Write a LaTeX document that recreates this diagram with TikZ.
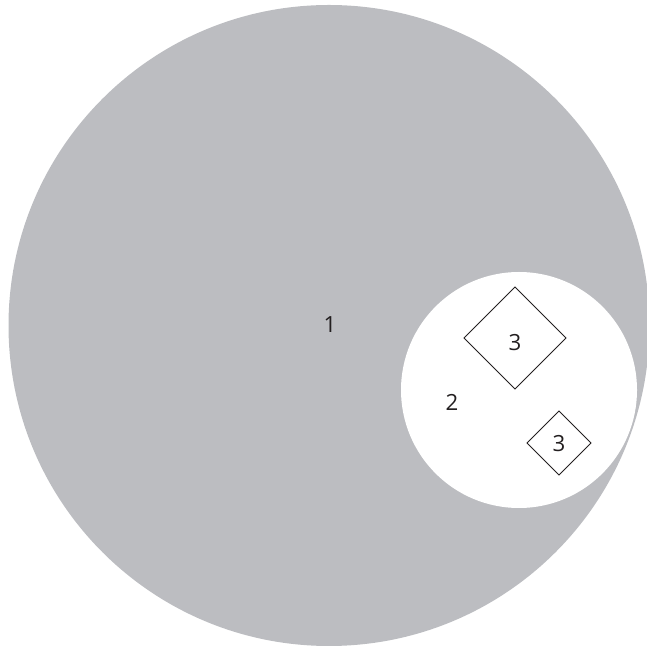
\documentclass[tikz,border=0pt]{standalone}
\usepackage{fontspec}
\setmainfont{Open Sans}
\usepackage{xcolor}
\usepackage{tikz}
\usetikzlibrary{shapes.geometric}
\definecolor{regiongray}{HTML}{BCBDC1}
\definecolor{darkline}{HTML}{231F20}
\tikzset{
  regionlabel/.style={inner sep=0pt, text=darkline, font=\fontsize{19}{23}\selectfont},
  subsetbox/.style={draw=darkline, diamond, shape aspect=1, inner sep=0pt, outer sep=0pt, line width=0.7pt},
  bigsubset/.style={subsetbox, minimum width=3.06cm, minimum height=3.06cm},
  smallsubset/.style={subsetbox, minimum width=1.92cm, minimum height=1.92cm}
}
\begin{document}
\begin{tikzpicture}[x=0.03cm, y=0.03cm]
  \useasboundingbox (0,0) rectangle (647,647);
  \fill[regiongray] (329,321.5) circle (320.5);
  \fill[white] (519,257) circle (118);
  \node[bigsubset] (bigsub) at (515,309) {};
  \node[smallsubset] (smallsub) at (559,204) {};
  \node[regionlabel] (one) at (330,322) {1};
  \node[regionlabel] (two) at (452,245) {2};
  \node[regionlabel] (threebig) at (515,304) {3};
  \node[regionlabel] (threesmall) at (559,203) {3};
\end{tikzpicture}
\end{document}
